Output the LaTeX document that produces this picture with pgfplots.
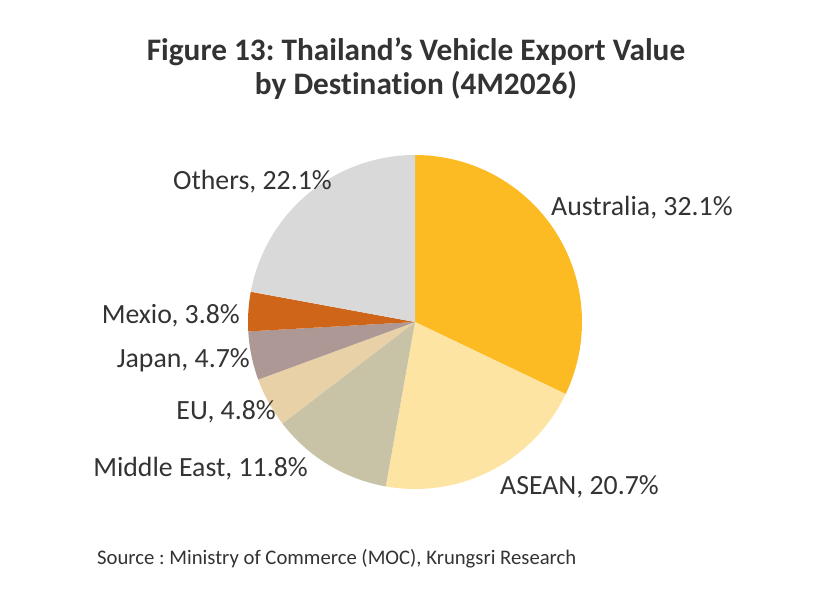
\documentclass[border=0pt]{standalone}
\usepackage{pgfplots}
\pgfplotsset{compat=1.18}
\usepackage{fontspec}
\setmainfont{Carlito}[Ligatures=NoCommon]
\frenchspacing

\definecolor{cAus}{HTML}{FDBB23}
\definecolor{cAsean}{HTML}{FEE4A3}
\definecolor{cMid}{HTML}{C8C3A6}
\definecolor{cEU}{HTML}{E8D1A7}
\definecolor{cJap}{HTML}{AE9895}
\definecolor{cMex}{HTML}{CF6519}
\definecolor{cOth}{HTML}{D9D9D9}
\definecolor{txt}{HTML}{333333}

% one wedge, clockwise from 12 o'clock, between two cumulative shares (%)
\newcommand{\pieslice}[3]{%
  \addplot[fill=#3, draw=none, domain={3.6*#1}:{3.6*#2}, samples=80]
    ({sin(x)}, {cos(x)}) -- (axis cs:0,0) -- cycle;}

\begin{document}
\begin{tikzpicture}[x=1pt,y=1pt]
\useasboundingbox (0,0) rectangle (840,-610);

\node[font=\bfseries\fontsize{31.3}{34}\selectfont, text=txt, align=center]
  at (416,-69) {Figure 13: Thailand’s Vehicle Export Value\\by Destination (4M2026)};

\begin{axis}[
  scale only axis, width=334pt, height=334pt,
  xmin=-1, xmax=1, ymin=-1, ymax=1,
  hide axis, anchor=center, at={(415pt,-322pt)}, clip=false]
% shares: Australia 32.1, ASEAN 20.7, Middle East 11.8, EU 4.8,
% Japan 4.7, Mexio 3.8, Others 22.1
\pieslice{0}{32.1}{cAus}
\pieslice{32.1}{52.8}{cAsean}
\pieslice{52.8}{64.6}{cMid}
\pieslice{64.6}{69.4}{cEU}
\pieslice{69.4}{74.1}{cJap}
\pieslice{74.1}{77.9}{cMex}
\pieslice{77.9}{100}{cOth}
\end{axis}

\begin{scope}[every node/.style={font=\fontsize{27.8}{32}\selectfont, text=txt, inner sep=0pt}]
\node[anchor=base west] at (551,-215) {Australia, 32.1\%};
\node[anchor=base west] at (500,-494) {ASEAN, 20.7\%};
\node[anchor=base east] at (308,-476) {Middle East, 11.8\%};
\node[anchor=base east] at (276,-419) {EU, 4.8\%};
\node[anchor=base east] at (250,-367) {Japan, 4.7\%};
\node[anchor=base east] at (240,-323) {Mexio, 3.8\%};
\node[anchor=base east] at (332,-189) {Others, 22.1\%};
\end{scope}

\node[font=\fontsize{20.7}{24}\selectfont, text=txt, anchor=base west, inner sep=0pt]
  at (97,-564) {Source : Ministry of Commerce (MOC), Krungsri Research};
\end{tikzpicture}
\end{document}
